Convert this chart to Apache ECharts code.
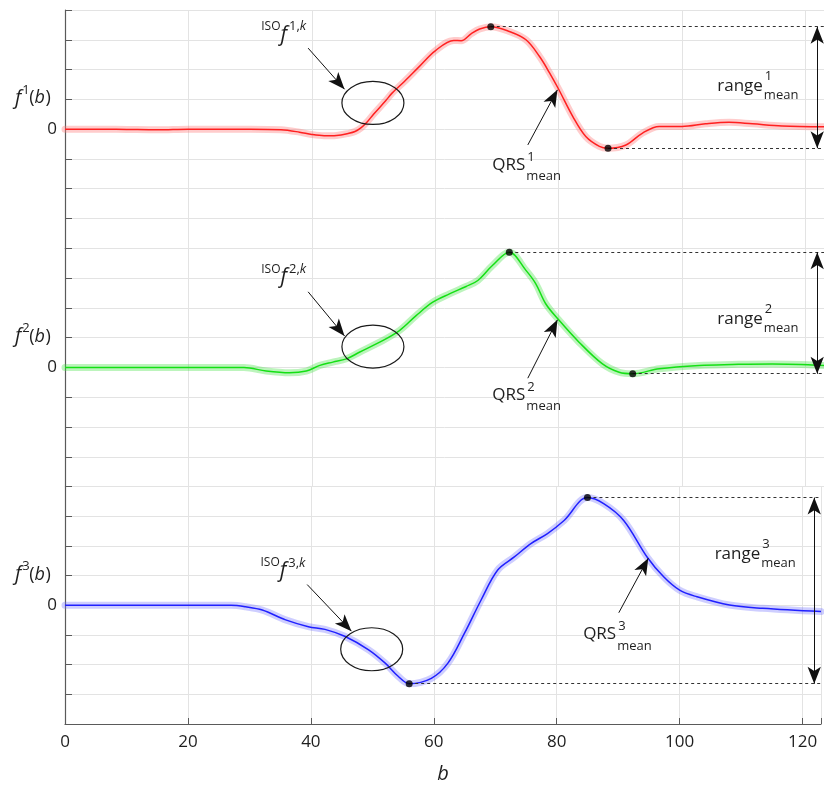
<!DOCTYPE html>
<html><head><meta charset="utf-8">
<script src="https://cdn.jsdelivr.net/npm/echarts@6/dist/echarts.min.js"></script>
<style>html,body{margin:0;padding:0;background:#fff}#c{width:824px;height:785px}</style>
</head><body><div id="c"></div>
<script>
// ---------- data ----------
const xTicks = [0, 20, 40, 60, 80, 100, 120];
const f1X = [0,5,10,15,20,25,30,35,38,40,42,44,46,47,48,49,50,52,53,55,57.4,60,63,64.2,65.8,67.2,69,72,74.7,76.9,78.5,80,82.3,84.4,86.6,88,90.9,93.6,96.3,100,103.8,107.6,111.4,116.2,123];
const f1Y = [0,0,-0.01,-0.02,0,0,0,-0.02,-0.1,-0.18,-0.22,-0.21,-0.14,-0.08,0.05,0.25,0.5,0.96,1.21,1.6,2.1,2.63,2.98,2.97,3.2,3.36,3.44,3.28,3.0,2.44,1.9,1.34,0.42,-0.25,-0.58,-0.64,-0.53,-0.13,0.09,0.09,0.18,0.23,0.18,0.11,0.08];
const f2X = [0,10,20,29,32.6,36.4,39.1,41.3,43.4,45.6,47.7,51,54.2,56.9,59.6,62.3,65,66.9,69.3,72,74.7,76.3,77.9,80,83.3,87.1,89.8,92,96.3,102.8,108.1,114.6,123];
const f2Y = [0,0,0,0,-0.12,-0.18,-0.12,0.07,0.18,0.29,0.51,0.85,1.24,1.74,2.19,2.47,2.72,2.92,3.43,3.87,3.26,2.81,2.14,1.6,0.85,0.12,-0.16,-0.21,-0.04,0.07,0.1,0.12,0.07];
const f3X = [0,10,20,27,29.4,32.1,35.9,39.6,42.3,45.6,49.4,52.1,54.2,56,59.6,62.3,65,67.7,70.4,73.1,75.8,78.5,81.2,85,87.7,90.9,94.7,97.4,100,102.8,108.1,113.5,123];
const f3Y = [0,0,0,0,-0.05,-0.16,-0.49,-0.72,-0.81,-1.05,-1.5,-1.95,-2.39,-2.64,-2.46,-1.95,-0.94,0.18,1.19,1.63,2.08,2.42,2.86,3.63,3.42,2.86,1.63,0.96,0.51,0.29,0.01,-0.1,-0.21];
const peakX = [69, 72, 85];
const peakY = [3.44, 3.87, 3.63];
const troughX = [88, 92, 56];
const troughY = [-0.64, -0.21, -2.64];

// ---------- layout / style ----------
const FONT = '"Open Sans","Noto Sans",sans-serif';
const TXT = '#1e1e1e';
const X_MAX = 123;
const UNIT = 29.79;
const G_TOP = 10, G_H = 8 * UNIT, G_LEFT = 65, G_W = 6.181 * X_MAX;
const colors = ['#ff2020', '#14e014', '#2020ff'];
const bands = ['rgba(255,120,120,0.38)', 'rgba(70,225,70,0.36)', 'rgba(110,110,255,0.34)'];
const xs = [f1X, f2X, f3X], ys = [f1Y, f2Y, f3Y];
const zip = (a, b) => a.map((v, i) => [v, b[i]]);

// annotation placement (data coords of each panel)
const ann = [
  { iso: [31.8, 3.44], isoArrow: [[39.4, 2.72], [45.3, 1.34]], ell: [49.9, 0.88],
    qrs: [69.25, -1.2], qrsArrow: [[75.0, -0.53], [79.8, 1.32]], rng: [105.7, 1.45], arrowX: 121.9 },
  { iso: [31.8, 3.30], isoArrow: [[39.4, 2.54], [45.3, 1.06]], ell: [49.9, 0.70],
    qrs: [69.25, -0.92], qrsArrow: [[75.0, -0.36], [79.8, 1.60]], rng: [105.7, 1.62], arrowX: 121.9 },
  { iso: [31.8, 1.43], isoArrow: [[39.4, 0.70], [46.6, -0.87]], ell: [49.9, -1.48],
    qrs: [84.3, -0.98], qrsArrow: [[90.1, -0.25], [94.9, 1.59]], rng: [105.7, 1.71], arrowX: 121.9 }
];

const grids = [0, 1, 2].map(i => ({ left: G_LEFT, top: G_TOP + i * G_H, width: G_W, height: G_H }));
const xAxes = [0, 1, 2].map(i => ({
  type: 'value', gridIndex: i, min: 0, max: X_MAX, interval: 20,
  axisLine: { show: i === 2, onZero: false, lineStyle: { color: '#5a5a5a', width: 1.2 } },
  axisTick: { show: i === 2, inside: true, length: 6, lineStyle: { color: '#5a5a5a' } },
  axisLabel: { show: i === 2, margin: 10, fontSize: 17, color: TXT, fontFamily: FONT,
    formatter: v => (xTicks.indexOf(v) >= 0 ? String(v) : '') },
  splitLine: { show: true, lineStyle: { color: '#e3e3e3', width: 1 } },
  name: i === 2 ? 'b' : '', nameLocation: 'middle', nameGap: 40,
  nameTextStyle: { fontSize: 20, fontStyle: 'italic', color: TXT, fontFamily: FONT }
}));
const yAxes = [0, 1, 2].map(i => ({
  type: 'value', gridIndex: i, min: -4, max: 4, interval: 1,
  axisLine: { show: true, onZero: false, lineStyle: { color: '#5a5a5a', width: 1.2 } },
  axisTick: { show: true, inside: true, length: 7, lineStyle: { color: '#5a5a5a' } },
  axisLabel: { margin: 8, fontSize: 17, color: TXT, fontFamily: FONT, formatter: v => (v === 0 ? '0' : '') },
  splitLine: { show: true, lineStyle: { color: '#e3e3e3', width: 1 } }
}));

const series = [];
[0, 1, 2].forEach(i => {
  const data = zip(xs[i], ys[i]);
  series.push({ type: 'line', xAxisIndex: i, yAxisIndex: i, data, smooth: 0.35, showSymbol: false, silent: true,
    lineStyle: { color: bands[i], width: 7, cap: 'round', join: 'round' }, z: 2 });
  const a = ann[i];
  const arrowEnd = { symbol: 'arrow', symbolSize: [10, 17] };
  series.push({ type: 'line', xAxisIndex: i, yAxisIndex: i, data, smooth: 0.35, showSymbol: false, silent: true,
    lineStyle: { color: colors[i], width: 1.5 }, z: 3,
    markLine: { silent: true, animation: false, symbol: 'none', label: { show: false },
      data: [
        [{ coord: [peakX[i], peakY[i]], lineStyle: { type: [3, 3], color: '#333', width: 1 } }, { coord: [X_MAX, peakY[i]] }],
        [{ coord: [troughX[i], troughY[i]], lineStyle: { type: [3, 3], color: '#333', width: 1 } }, { coord: [X_MAX, troughY[i]] }],
        [Object.assign({ coord: [a.arrowX, peakY[i]], lineStyle: { type: 'solid', color: '#111', width: 1 } }, arrowEnd),
         Object.assign({ coord: [a.arrowX, troughY[i]] }, arrowEnd)],
        [{ coord: a.isoArrow[0], symbol: 'none', lineStyle: { type: 'solid', color: '#111', width: 1 } },
         Object.assign({ coord: a.isoArrow[1] }, arrowEnd)],
        [{ coord: a.qrsArrow[0], symbol: 'none', lineStyle: { type: 'solid', color: '#111', width: 1 } },
         Object.assign({ coord: a.qrsArrow[1] }, arrowEnd)]
      ] } });
  series.push({ type: 'scatter', xAxisIndex: i, yAxisIndex: i, symbolSize: 7, silent: true, z: 6,
    itemStyle: { color: '#000' }, data: [[peakX[i], peakY[i]], [troughX[i], troughY[i]]] });
});

const chart = echarts.init(document.getElementById('c'), null, { renderer: 'canvas' });
chart.setOption({ animation: false, backgroundColor: '#fff', grid: grids, xAxis: xAxes, yAxis: yAxes, series });

// ---------- text & ellipse annotations ----------
const ctx = document.createElement('canvas').getContext('2d');
function w(s, size, italic) { ctx.font = (italic ? 'italic ' : '') + size + 'px ' + FONT; return ctx.measureText(s).width; }
function t(x, y, s, size, extra) {
  return { type: 'text', x, y, z: 50, silent: true,
    style: Object.assign({ text: s, fontSize: size, fontFamily: FONT, fill: TXT, align: 'left', verticalAlign: 'middle' }, extra || {}) };
}
const g = [];
[0, 1, 2].forEach(i => {
  const P = p => chart.convertToPixel({ gridIndex: i }, p);
  const a = ann[i], n = String(i + 1);
  // y-axis title f^i(b) at value 1
  const yl = P([0, 1]);
  let x = 15;
  g.push(t(x, yl[1] - 1, 'f', 20, { fontStyle: 'italic' })); x += w('f', 20, true) + 1;
  g.push(t(x, yl[1] - 9, n, 13)); x += w(n, 13) - 0.5;
  g.push(t(x, yl[1] - 1, '(', 18)); x += w('(', 18);
  g.push(t(x, yl[1] - 1, 'b', 18, { fontStyle: 'italic' })); x += w('b', 18, true) + 0.5;
  g.push(t(x, yl[1] - 1, ')', 18));
  // ISO f^{i,k}
  const ip = P(a.iso);
  x = ip[0];
  g.push(t(x, ip[1], 'ISO', 12)); x += w('ISO', 12);
  g.push(t(x, ip[1] + 8, 'f', 21, { fontStyle: 'italic' })); x += w('f', 21, true) + 2;
  g.push(t(x, ip[1], n + ',', 13)); x += w(n + ',', 13);
  g.push(t(x, ip[1], 'k', 13, { fontStyle: 'italic' }));
  // ellipse
  const ep = P(a.ell);
  g.push({ type: 'ellipse', z: 40, silent: true, shape: { cx: ep[0], cy: ep[1], rx: 31, ry: 21.5 },
    style: { fill: 'none', stroke: '#1a1a1a', lineWidth: 1.2 } });
  // QRS^i_mean
  const qp = P(a.qrs);
  g.push(t(qp[0], qp[1], 'QRS', 17));
  const qw = w('QRS', 17) + 1;
  g.push(t(qp[0] + qw + 1, qp[1] - 8, n, 13));
  g.push(t(qp[0] + qw, qp[1] + 11.5, 'mean', 13));
  // range^i_mean
  const rp = P(a.rng);
  g.push(t(rp[0], rp[1], 'range', 17));
  const rw = w('range', 17) + 1;
  g.push(t(rp[0] + rw + 1, rp[1] - 10, n, 13));
  g.push(t(rp[0] + rw, rp[1] + 9, 'mean', 13));
});
chart.setOption({ graphic: g });
</script></body></html>
